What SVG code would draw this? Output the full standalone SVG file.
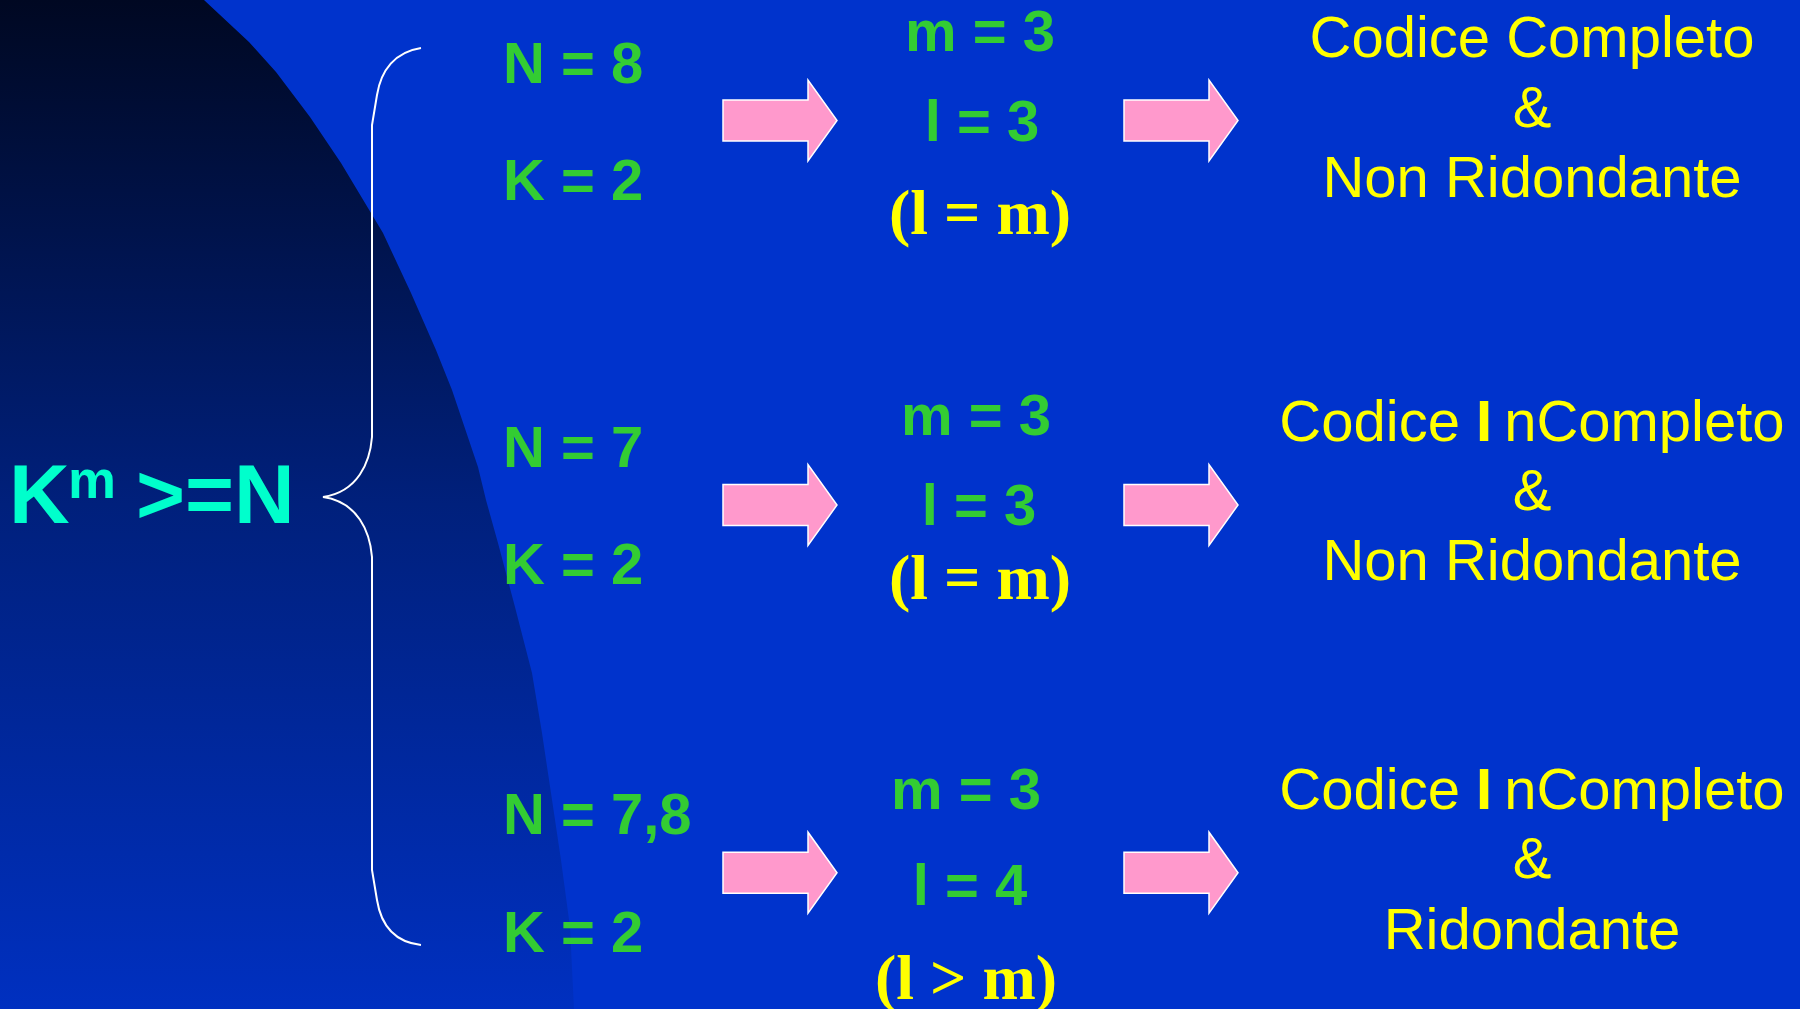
<svg xmlns="http://www.w3.org/2000/svg" width="1800" height="1009" viewBox="0 0 1800 1009">
  <defs>
    <linearGradient id="shade" x1="0" y1="0" x2="0" y2="1">
      <stop offset="0" stop-color="#000822"/>
      <stop offset="0.5" stop-color="#00207C"/>
      <stop offset="1" stop-color="#0030C0"/>
    </linearGradient>
    <!-- block arrow, origin at left end of its shaft, centred vertically -->
    <path id="blockArrow" d="M0,-20.5 H85 V-40.5 L114,0 L85,40.5 V20.5 H0 Z"/>
    <style>
      .arrow { fill: #FF99CC; stroke: #FFFFFF; stroke-width: 1.5; stroke-linejoin: miter; }
      .brace { fill: none; stroke: #FFFFFF; stroke-width: 2; }
      .param { font-family: "Liberation Sans", Arial, sans-serif; font-weight: bold; font-size: 58px; fill: #33CC33; }
      .mid { text-anchor: middle; }
      .rel { font-family: "Liberation Serif", "Times New Roman", serif; font-weight: bold; font-size: 64px; fill: #FFFF00; text-anchor: middle; }
      .verdict { font-family: "Liberation Sans", Arial, sans-serif; font-size: 58px; fill: #FFFF00; text-anchor: middle; }
      .formula { font-family: "Liberation Sans", Arial, sans-serif; font-weight: bold; font-size: 84px; fill: #00FFCC; }
      .exp { font-size: 54px; }
    </style>
  </defs>

  <!-- background -->
  <rect x="0" y="0" width="1800" height="1009" fill="#0033CC"/>
  <path d="M0,0 L204,0 L249,42 L276,72 L310,117 L341,163 L371,213 L383,233 L411,293 L436,350 L452,390 L478,467 L486,500 L498,543 L515,607 L532,673 L542,733 L551,793 L561,860 L570,927 L574,1009 L0,1009 Z" fill="url(#shade)"/>

  <!-- main condition -->
  <g id="formula">
    <text class="formula" x="9" y="523">K</text>
    <text class="formula exp" x="68" y="498">m</text>
    <text class="formula" x="136" y="523">&gt;=N</text>
  </g>

  <!-- parameter sets -->
  <g id="case1-params">
    <text class="param" x="503" y="83">N = 8</text>
    <text class="param" x="503" y="200">K = 2</text>
  </g>
  <g id="case2-params">
    <text class="param" x="503" y="467">N = 7</text>
    <text class="param" x="503" y="584">K = 2</text>
  </g>
  <g id="case3-params">
    <text class="param" x="503" y="834">N = 7,8</text>
    <text class="param" x="503" y="952">K = 2</text>
  </g>

  <!-- code lengths -->
  <g id="case1-lengths">
    <text class="param mid" x="980" y="51">m = 3</text>
    <text class="param mid" x="982" y="141">l = 3</text>
    <text class="rel" x="980" y="234">(l = m)</text>
  </g>
  <g id="case2-lengths">
    <text class="param mid" x="976" y="435">m = 3</text>
    <text class="param mid" x="979" y="525">l = 3</text>
    <text class="rel" x="980" y="599">(l = m)</text>
  </g>
  <g id="case3-lengths">
    <text class="param mid" x="966" y="809">m = 3</text>
    <text class="param mid" x="970" y="905">l = 4</text>
    <text class="rel" x="966" y="999">(l &gt; m)</text>
  </g>

  <!-- resulting code properties -->
  <g id="case1-result">
    <text class="verdict" x="1532" y="57">Codice Completo</text>
    <text class="verdict" x="1532" y="127">&amp;</text>
    <text class="verdict" x="1532" y="197">Non Ridondante</text>
  </g>
  <g id="case2-result">
    <text class="verdict" x="1532" y="441">Codice <tspan font-weight="bold">I</tspan><tspan dx="12">nCompleto</tspan></text>
    <text class="verdict" x="1532" y="510">&amp;</text>
    <text class="verdict" x="1532" y="580">Non Ridondante</text>
  </g>
  <g id="case3-result">
    <text class="verdict" x="1532" y="809">Codice <tspan font-weight="bold">I</tspan><tspan dx="12">nCompleto</tspan></text>
    <text class="verdict" x="1532" y="878">&amp;</text>
    <text class="verdict" x="1532" y="949">Ridondante</text>
  </g>

  <!-- connectors: brace and block arrows -->
  <g id="connectors">
    <path class="brace" d="M421,48 C395,52 381,70 377,95 L372,125 L372,437 C370,462 358,492 323,497 C358,502 370,532 372,557 L372,870 L377,900 C381,925 395,942 421,945"/>
    <use href="#blockArrow" class="arrow" x="723" y="120.5"/>
    <use href="#blockArrow" class="arrow" x="1124" y="120.5"/>
    <use href="#blockArrow" class="arrow" x="723" y="505"/>
    <use href="#blockArrow" class="arrow" x="1124" y="505"/>
    <use href="#blockArrow" class="arrow" x="723" y="872.7"/>
    <use href="#blockArrow" class="arrow" x="1124" y="872.7"/>
  </g>
</svg>
